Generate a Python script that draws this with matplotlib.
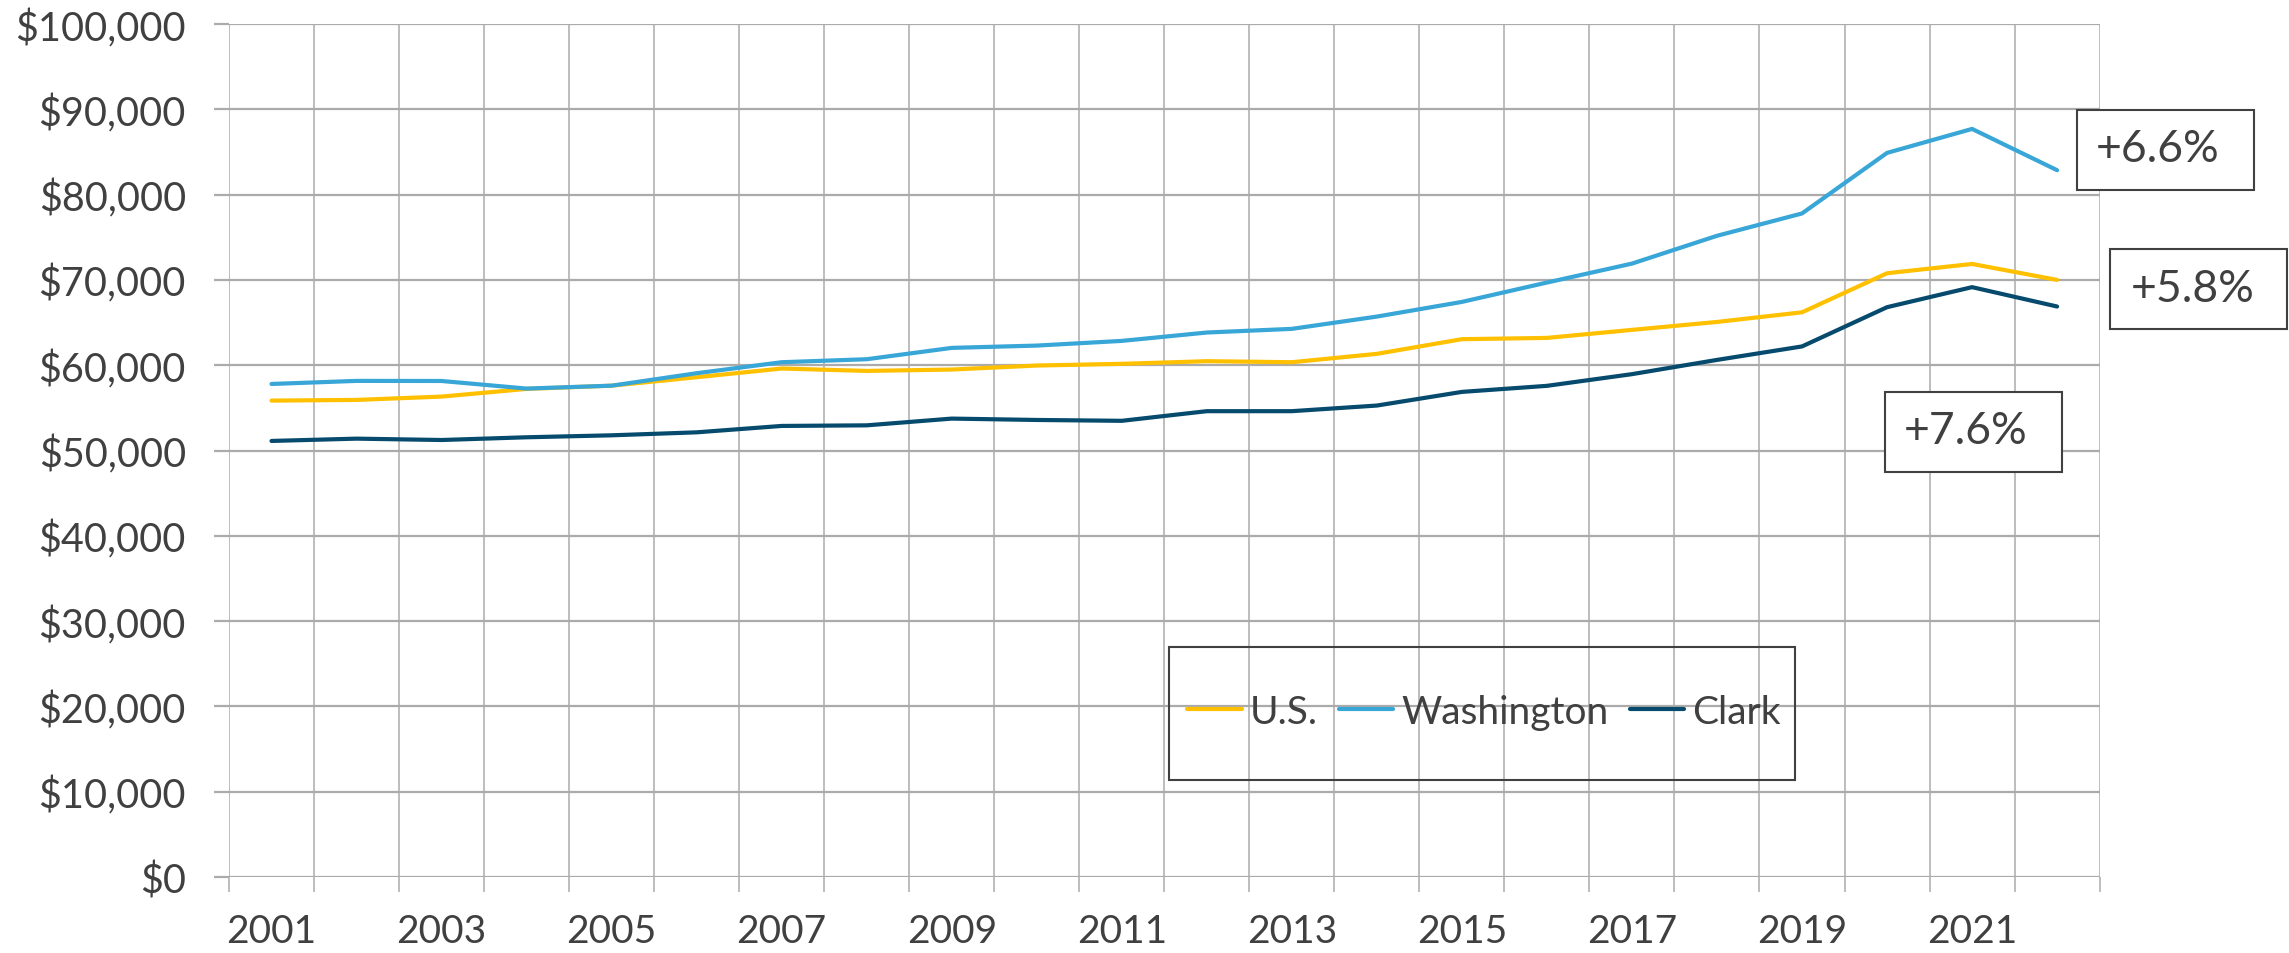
import numpy as np
import matplotlib.pyplot as plt
from matplotlib.patches import Rectangle

plt.rcParams['font.family'] = ['Lato', 'DejaVu Sans']

# data (median household income)
years = list(range(2001, 2023))
us = [55850, 55930, 56320, 57220, 57600, 58590, 59610, 59330, 59490, 59960, 60160,
      60470, 60350, 61330, 63050, 63200, 64140, 65070, 66200, 70780, 71870, 70000]
washington = [57800, 58160, 58150, 57260, 57600, 59060, 60350, 60700, 62030, 62300, 62850,
              63830, 64260, 65700, 67420, 69690, 71910, 75170, 77790, 84890, 87700, 82860]
clark = [51120, 51390, 51230, 51550, 51780, 52130, 52880, 52950, 53740, 53580, 53480,
         54610, 54610, 55270, 56870, 57580, 58950, 60620, 62200, 66800, 69150, 66880]

series_names = ['U.S.', 'Washington', 'Clark']
colors = ['#FFC000', '#38A6D7', '#064A6D']
changes = ['+6.6%', '+5.8%', '+7.6%']

W, H = 2289, 954
fig = plt.figure(figsize=(W / 100, H / 100), dpi=100)
ax = fig.add_axes([229 / W, 1 - 878 / H, (2099.6 - 229) / W, (878 - 25) / H])

x = np.arange(len(years))
for vals, name, c in zip([us, washington, clark], series_names, colors):
    ax.plot(x, vals, color=c, lw=3, label=name, solid_capstyle='round', zorder=3)

txt = '#404040'
grid_c = '#ABABAB'

ax.set_xlim(-0.5, len(years) - 0.5)
ax.set_ylim(0, 100000)
ax.set_yticks(np.arange(0, 100001, 10000))
ax.set_yticklabels(['${:,.0f}'.format(v) for v in np.arange(0, 100001, 10000)])
ax.set_xticks(x[::2])
ax.set_xticklabels([str(y) for y in years[::2]])
ax.set_xticks(np.arange(-0.5, len(years), 1), minor=True)

# gridlines: horizontal at values, vertical at year boundaries
ax.grid(True, axis='y', which='major', color=grid_c, lw=1.6)
ax.grid(True, axis='x', which='minor', color=grid_c, lw=1.1)
ax.tick_params(axis='y', which='major', length=11, width=1.6, color=grid_c,
               labelsize=28.5, labelcolor=txt, pad=20)
ax.tick_params(axis='x', which='major', length=0, labelsize=28, labelcolor=txt, pad=26)
ax.tick_params(axis='x', which='minor', length=11, width=1.1, color=grid_c)
for s in ax.spines.values():
    s.set_visible(False)
ax.set_axisbelow(True)

# legend box
fig.add_artist(Rectangle((1169 / W, 1 - 781 / H), 626 / W, 133 / H,
                         transform=fig.transFigure, fill=False, ec='#404040', lw=1.5))
leg = fig.legend(loc='center', bbox_to_anchor=(1484 / W, 1 - 713 / H), ncol=3,
                 frameon=False, fontsize=28, handlelength=1.4, handletextpad=0.2,
                 columnspacing=0.55)
for t in leg.get_texts():
    t.set_color(txt)
for l in leg.get_lines():
    l.set_linewidth(3)

# change annotations
boxes = [(2077, 111, 2096, 150), (2110, 250, 2131, 289), (1885, 393, 1904, 432)]
for (bx, by, tx, ty), label in zip(boxes, changes):
    fig.add_artist(Rectangle((bx / W, 1 - (by + 80) / H), 177 / W, 80 / H,
                             transform=fig.transFigure, facecolor='white',
                             ec='#404040', lw=1.5, zorder=5))
    fig.text(tx / W, 1 - ty / H, label, fontsize=32, color=txt, ha='left',
             va='center', zorder=6)

fig.savefig('out.png', dpi=100)
